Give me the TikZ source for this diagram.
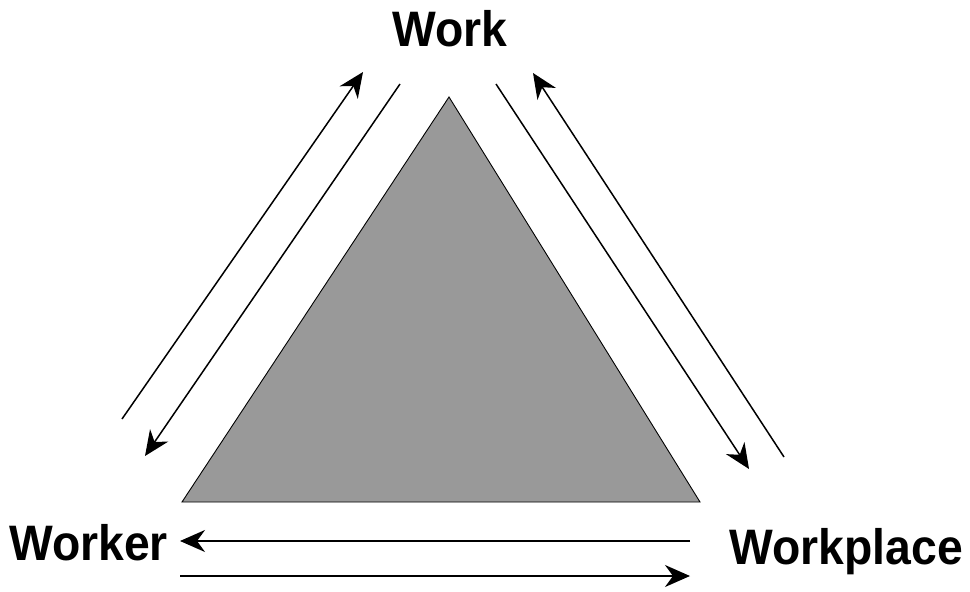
\documentclass[tikz,border=0pt]{standalone}
\usepackage{fontspec}
\setmainfont{Liberation Sans}
\newfontfamily\lblfont{Liberation Sans}[FakeStretch=0.93]
\usetikzlibrary{arrows.meta}
\definecolor{tri}{rgb}{0.6,0.6,0.6}
\begin{document}
\begin{tikzpicture}[x=1bp,y=-1bp,
  lbl/.style={font=\lblfont\bfseries\fontsize{50}{54}\selectfont, inner sep=0pt},
  conn/.style={line width=1.5bp, -{Stealth[length=25bp,width=22bp,inset=8bp]}}]
\useasboundingbox (0,0) rectangle (970,592);
\fill[tri, draw=black, line width=0.9bp] (449,97) -- (182,502) -- (700,502) -- cycle;
\node[lbl] (work) at (450,29) {Work};
\node[lbl, anchor=west] (worker) at (9,543) {Worker};
\node[lbl, anchor=east] (workplace) at (963,552) {Workplace};
% left side
\coordinate (l1s) at (122,419);
\coordinate (l1e) at (363,72);
\coordinate (l2s) at (400,84);
\coordinate (l2e) at (145,456);
\draw[conn] (l1s) -- (l1e);
\draw[conn] (l2s) -- (l2e);
% right side
\coordinate (r1s) at (496,84);
\coordinate (r1e) at (749,469);
\coordinate (r2s) at (784,457);
\coordinate (r2e) at (533,73);
\draw[conn] (r1s) -- (r1e);
\draw[conn] (r2s) -- (r2e);
% bottom
\coordinate (b1s) at (690,541);
\coordinate (b1e) at (180,541);
\coordinate (b2s) at (180,576);
\coordinate (b2e) at (690,576);
\draw[conn] (b1s) -- (b1e);
\draw[conn] (b2s) -- (b2e);
\end{tikzpicture}
\end{document}
